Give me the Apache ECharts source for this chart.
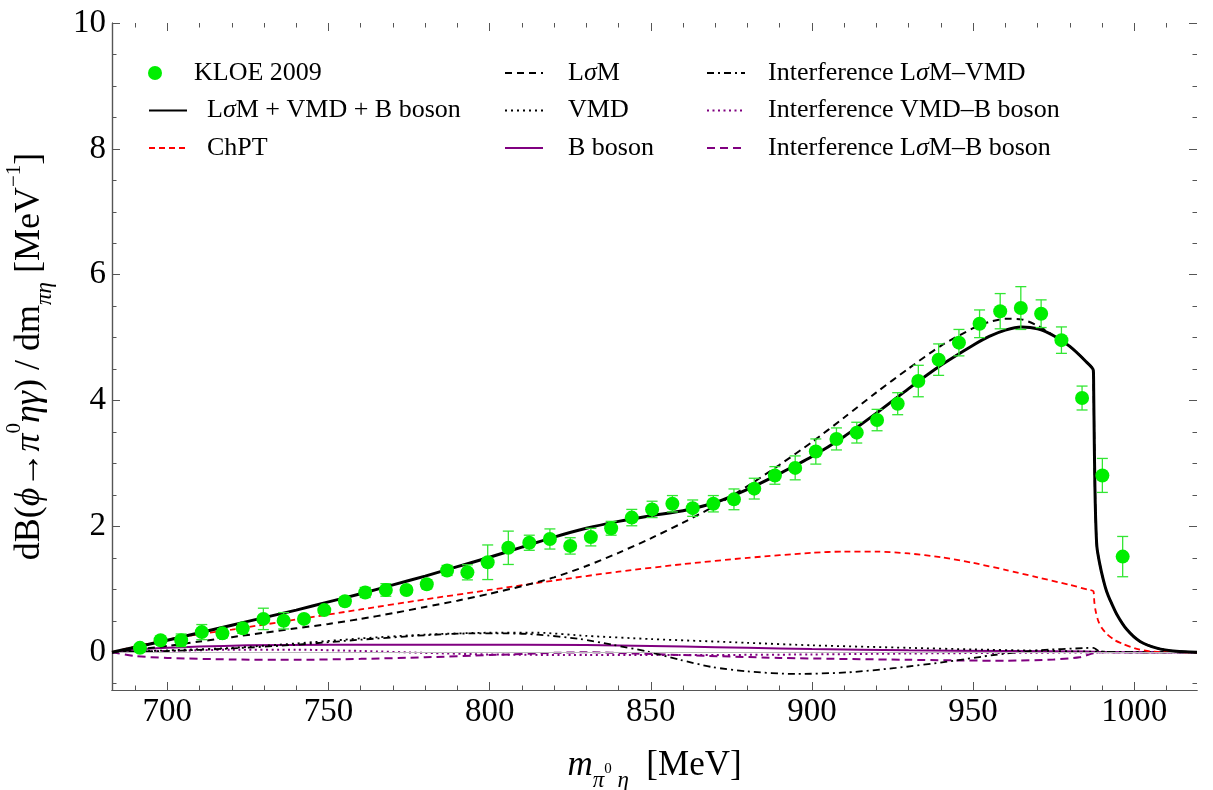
<!DOCTYPE html>
<html><head><meta charset="utf-8">
<script src="https://cdn.jsdelivr.net/npm/echarts@6/dist/echarts.min.js"></script>
<style>html,body{margin:0;padding:0;background:#fff}#c{width:1213px;height:790px}</style>
</head><body><div id="c"></div>
<script>
// ---- KLOE 2009 data ----
const kloeMass = [691.5, 697.9, 704.3, 710.7, 717.1, 723.4, 729.8, 736.1, 742.4, 748.7,
  755.1, 761.4, 767.8, 774.2, 780.5, 786.8, 793.1, 799.4, 805.8, 812.3,
  818.7, 825.0, 831.4, 837.7, 844.1, 850.4, 856.7, 863.0, 869.4, 875.8,
  882.1, 888.5, 894.8, 901.2, 907.6, 913.9, 920.2, 926.6, 933.0, 939.3,
  945.6, 952.0, 958.4, 964.8, 971.1, 977.4, 983.8, 990.1, 996.4];
const kloeValue = [0.07, 0.19, 0.19, 0.32, 0.30, 0.38, 0.53, 0.50, 0.53, 0.67,
  0.81, 0.95, 0.99, 0.99, 1.08, 1.30, 1.27, 1.43, 1.66, 1.74,
  1.80, 1.69, 1.83, 1.97, 2.14, 2.27, 2.36, 2.29, 2.36, 2.43,
  2.60, 2.81, 2.93, 3.19, 3.39, 3.49, 3.69, 3.95, 4.31, 4.65,
  4.92, 5.22, 5.42, 5.47, 5.38, 4.96, 4.04, 2.81, 1.52];
const kloeError = [0.05, 0.06, 0.10, 0.12, 0.07, 0.08, 0.17, 0.13, 0.05, 0.05,
  0.06, 0.08, 0.10, 0.06, 0.07, 0.08, 0.12, 0.275, 0.265, 0.12,
  0.16, 0.13, 0.14, 0.11, 0.13, 0.13, 0.13, 0.13, 0.13, 0.165,
  0.165, 0.14, 0.19, 0.20, 0.175, 0.165, 0.17, 0.175, 0.25, 0.25,
  0.21, 0.22, 0.28, 0.34, 0.22, 0.21, 0.19, 0.27, 0.32];

// ---- theory curves ----
const totalMass = [682.84, 690, 700, 710, 720, 730, 740, 750, 760, 770, 780, 790, 800, 810, 820, 830, 840, 850, 860, 870, 880, 890, 900, 910, 920, 930, 940, 950, 955, 960, 965, 970, 975, 980, 985, 987.3, 987.4, 987.6, 987.8, 988.0, 988.4, 989.3, 990.4, 991.4, 992.5, 994.6, 997.7, 1001.8, 1007, 1013, 1019.46];
const totalValue = [0, 0.08, 0.19, 0.31, 0.43, 0.55, 0.67, 0.8, 0.93, 1.07, 1.21, 1.36, 1.51, 1.67, 1.83, 1.97, 2.08, 2.17, 2.25, 2.38, 2.59, 2.84, 3.11, 3.43, 3.8, 4.19, 4.56, 4.88, 5.02, 5.12, 5.17, 5.14, 5.03, 4.86, 4.62, 4.48, 4.2, 3.3, 2.6, 2.15, 1.68, 1.4, 1.15, 0.97, 0.83, 0.6, 0.36, 0.17, 0.065, 0.015, 0];

const lsmMass = [682.84, 700, 710, 720, 730, 740, 750, 760, 770, 780, 790, 800, 810, 820, 830, 840, 850, 860, 870, 880, 890, 900, 910, 920, 930, 940, 950, 955, 960, 965, 970, 975, 980, 985, 987.3, 987.4, 987.6, 987.8, 988.0, 988.4, 989.3, 990.4, 991.4, 992.5, 994.6, 997.7, 1001.8, 1007, 1013, 1019.46];
const lsmValue = [0, 0.1, 0.17, 0.24, 0.31, 0.38, 0.45, 0.53, 0.62, 0.72, 0.82, 0.93, 1.05, 1.19, 1.37, 1.58, 1.81, 2.06, 2.33, 2.64, 2.98, 3.34, 3.73, 4.13, 4.51, 4.87, 5.15, 5.25, 5.3, 5.29, 5.19, 5.03, 4.86, 4.62, 4.48, 4.2, 3.3, 2.6, 2.15, 1.68, 1.4, 1.15, 0.97, 0.83, 0.6, 0.36, 0.17, 0.065, 0.015, 0];

const chptMass = [682.84, 690, 700, 710, 720, 740, 760, 780, 800, 820, 840, 860, 880, 900, 910, 920, 930, 940, 950, 960, 970, 980, 986, 987.3, 987.6, 988, 988.8, 990, 991.5, 994, 996.6, 1000, 1004, 1008, 1019.46];
const chptValue = [0, 0.09, 0.2, 0.29, 0.36, 0.52, 0.68, 0.84, 0.99, 1.14, 1.28, 1.4, 1.5, 1.58, 1.6, 1.6, 1.57, 1.51, 1.42, 1.31, 1.19, 1.07, 0.99, 0.97, 0.8, 0.66, 0.5, 0.38, 0.29, 0.19, 0.13, 0.065, 0.02, 0.003, 0];

const vmdMass = [682.84, 700, 720, 740, 760, 780, 800, 815, 830, 850, 880, 900, 930, 950, 970, 987, 1000, 1019.46];
const vmdValue = [0, 0.03, 0.07, 0.14, 0.22, 0.28, 0.31, 0.31, 0.26, 0.21, 0.15, 0.11, 0.07, 0.045, 0.025, 0.01, 0.003, 0];

const bMass = [682.84, 690, 700, 710, 725, 750, 790, 830, 860, 880, 900, 930, 960, 985, 990, 1000, 1019.46];
const bValue = [0, 0.04, 0.07, 0.09, 0.11, 0.12, 0.12, 0.115, 0.09, 0.07, 0.05, 0.03, 0.018, 0.01, 0.003, 0, 0];

const intLsmVmdMass = [682.84, 700, 720, 740, 760, 780, 795, 805, 815, 828, 838, 849, 859, 869, 880, 895, 911, 926, 942, 957, 970, 985, 987.3, 989, 992, 1000, 1019.46];
const intLsmVmdValue = [0, 0.02, 0.06, 0.12, 0.2, 0.27, 0.3, 0.3, 0.28, 0.21, 0.12, 0.01, -0.12, -0.235, -0.305, -0.345, -0.32, -0.25, -0.15, -0.04, 0.03, 0.067, 0.07, 0.02, 0.005, 0, 0];

const intVmdBMass = [682.84, 700, 720, 740, 760, 780, 800, 830, 860, 900, 930, 960, 987, 1000, 1019.46];
const intVmdBValue = [0, 0.02, 0.04, 0.04, 0.02, -0.01, -0.035, -0.045, -0.045, -0.035, -0.02, -0.01, -0.003, 0, 0];

const intLsmBMass = [682.84, 690, 700, 720, 740, 760, 780, 800, 820, 830, 845, 860, 890, 930, 960, 975, 983, 987.3, 990, 1019.46];
const intLsmBValue = [0, -0.06, -0.09, -0.115, -0.12, -0.105, -0.08, -0.045, -0.01, 0, -0.02, -0.045, -0.09, -0.12, -0.135, -0.115, -0.08, -0.015, 0, 0];

// ---- ticks ----
const xMajorTicks = [700, 750, 800, 850, 900, 950, 1000];
const xMinorTicks = [690, 710, 720, 730, 740, 760, 770, 780, 790, 810, 820, 830, 840, 860, 870, 880, 890, 910, 920, 930, 940, 960, 970, 980, 990, 1010];
const yMajorTicks = [0, 2, 4, 6, 8, 10];
const yMinorTicks = [-0.5, 0.5, 1, 1.5, 2.5, 3, 3.5, 4.5, 5, 5.5, 6.5, 7, 7.5, 8.5, 9, 9.5];

const XMIN = 682.84, XMAX = 1019.46, YMIN = -0.6, YMAX = 10;
const FONT = 'Liberation Serif';
const FRAME = '#555';

const pairs = (xs, ys) => xs.map((x, i) => [x, ys[i]]);

function curve(name, xs, ys, color, width, dash, z) {
  return {
    type: 'line', name, data: pairs(xs, ys), symbol: 'none', showSymbol: false,
    smooth: 0.25, z,
    lineStyle: { color, width, type: dash, cap: 'butt' }, itemStyle: { color },
    silent: true, animation: false
  };
}

function axisCommon(ticks, len, labels) {
  return {
    axisLine: { show: labels !== null, onZero: false, lineStyle: { color: FRAME, width: 1.2 } },
    axisTick: { show: true, inside: true, length: len, customValues: ticks, lineStyle: { color: FRAME, width: 1 } },
    axisLabel: labels ? { show: true, customValues: ticks, formatter: v => String(v), fontFamily: FONT, fontSize: 33, color: '#000', margin: 6 } : { show: false },
    splitLine: { show: false }, minorTick: { show: false }
  };
}
function xAx(pos, ticks, len, labels) {
  return Object.assign({ type: 'value', min: XMIN, max: XMAX, position: pos }, axisCommon(ticks, len, labels));
}
function yAx(pos, ticks, len, labels) {
  return Object.assign({ type: 'value', min: YMIN, max: YMAX, position: pos }, axisCommon(ticks, len, labels));
}

const xMain = xAx('bottom', xMajorTicks, 8, true);
xMain.name = '{i|m}{sub|π}{sup0|0}{sub| η}{n|  [MeV]}';
xMain.nameLocation = 'middle';
xMain.nameGap = 50;
xMain.nameTextStyle = {
  color: '#000', fontFamily: FONT, lineHeight: 52,
  rich: {
    i: { fontFamily: FONT, fontSize: 35, fontStyle: 'italic', lineHeight: 52, verticalAlign: 'middle', color: '#000' },
    n: { fontFamily: FONT, fontSize: 35, lineHeight: 52, verticalAlign: 'middle', color: '#000' },
    sub: { fontFamily: FONT, fontSize: 23, fontStyle: 'italic', lineHeight: 22, verticalAlign: 'bottom', color: '#000' },
    sup0: { fontFamily: FONT, fontSize: 15, lineHeight: 16, verticalAlign: 'middle', padding: [6, 0, 0, 0], color: '#000' }
  }
};

const yMain = yAx('left', yMajorTicks, 8, true);
yMain.name = '{n|dB(}{i|ϕ}{n|→}{i|π}{sup|0}{i|ηγ}{n|) / dm}{sub|πη}{n| [MeV}{sup|−1}{n|]}';
yMain.nameLocation = 'middle';
yMain.nameRotate = 90;
yMain.nameGap = 56;
yMain.nameTextStyle = {
  color: '#000', fontFamily: FONT, lineHeight: 52,
  rich: {
    n: { fontFamily: FONT, fontSize: 36, lineHeight: 52, verticalAlign: 'middle', color: '#000' },
    i: { fontFamily: FONT, fontSize: 36, fontStyle: 'italic', lineHeight: 52, verticalAlign: 'middle', color: '#000' },
    sup: { fontFamily: FONT, fontSize: 21, lineHeight: 30, verticalAlign: 'top', color: '#000' },
    sub: { fontFamily: FONT, fontSize: 23, fontStyle: 'italic', lineHeight: 22, verticalAlign: 'bottom', color: '#000' }
  }
};

// legend layout
const legendItems = [
  ['KLOE 2009', 148, 73, 15], ['LσM + VMD + B boson', 148, 110.5, 15], ['ChPT', 148, 148, 15],
  ['LσM', 504, 73, 20], ['VMD', 504, 110.5, 20], ['B boson', 504, 148, 20],
  ['Interference LσM–VMD', 706, 73, 18], ['Interference VMD–B boson', 706, 110.5, 18], ['Interference LσM–B boson', 706, 148, 18]
];
const legends = legendItems.map(([name, left, cy, pad]) => ({
  data: [name], left, top: cy - 15, orient: 'horizontal', padding: 0,
  itemWidth: 38, itemHeight: 14, selectedMode: false,
  itemStyle: name === 'KLOE 2009' ? {} : { opacity: 0 },
  formatter: n => n.replace(/σ/g, '{s|σ}'),
  textStyle: {
    fontFamily: FONT, fontSize: 26, color: '#000', lineHeight: 30, padding: [0, 0, 0, pad],
    rich: { s: { fontFamily: FONT, fontSize: 26, fontStyle: 'italic', color: '#000', lineHeight: 30 } }
  }
}));

const PURPLE = '#800080';

const option = {
  animation: false,
  backgroundColor: '#fff',
  grid: { left: 112, right: 16, top: 23, bottom: 100, containLabel: false, outerBoundsMode: 'none' },
  legend: legends,
  xAxis: [xMain, xAx('bottom', xMinorTicks, 4.5, false), xAx('top', xMajorTicks, 8, null), xAx('top', xMinorTicks, 4.5, null)],
  yAxis: [yMain, yAx('left', yMinorTicks, 4.5, false), yAx('right', yMajorTicks, 8, null), yAx('right', yMinorTicks, 4.5, null)],
  series: [
    {
      type: 'line', name: 'zero', data: [], silent: true, z: 1,
      markLine: { silent: true, symbol: 'none', label: { show: false }, animation: false,
        lineStyle: { color: '#bbb', width: 1, type: 'solid' }, data: [{ yAxis: 0 }] }
    },
    curve('Interference LσM–B boson', intLsmBMass, intLsmBValue, PURPLE, 2, [8, 5], 2),
    curve('Interference VMD–B boson', intVmdBMass, intVmdBValue, PURPLE, 2, [2, 3.5], 2),
    curve('B boson', bMass, bValue, PURPLE, 2, 'solid', 2),
    curve('Interference LσM–VMD', intLsmVmdMass, intLsmVmdValue, '#000', 1.8, [7, 4, 2, 4], 3),
    curve('VMD', vmdMass, vmdValue, '#000', 1.8, [2, 4], 3),
    curve('ChPT', chptMass, chptValue, '#ff0000', 1.8, [6, 4], 4),
    curve('LσM', lsmMass, lsmValue, '#000', 2, [7, 5], 5),
    curve('LσM + VMD + B boson', totalMass, totalValue, '#000', 3, 'solid', 6),
    {
      type: 'custom', name: 'KLOE errors', z: 7, silent: true,
      data: kloeMass.map((m, i) => [m, kloeValue[i], kloeError[i]]),
      encode: { x: 0, y: 1 },
      renderItem: function (params, api) {
        const x = api.value(0), y = api.value(1), e = api.value(2);
        const top = api.coord([x, y + e]), bot = api.coord([x, y - e]);
        const w = 5.5, st = { stroke: '#33e633', lineWidth: 1.3 };
        return { type: 'group', children: [
          { type: 'line', shape: { x1: top[0], y1: top[1], x2: bot[0], y2: bot[1] }, style: st },
          { type: 'line', shape: { x1: top[0] - w, y1: top[1], x2: top[0] + w, y2: top[1] }, style: st },
          { type: 'line', shape: { x1: bot[0] - w, y1: bot[1], x2: bot[0] + w, y2: bot[1] }, style: st }
        ] };
      }
    },
    {
      type: 'scatter', name: 'KLOE 2009', data: pairs(kloeMass, kloeValue),
      symbol: 'circle', symbolSize: 14, z: 8, silent: true,
      itemStyle: { color: '#00ee00', opacity: 1 }
    }
  ]
};

const chart = echarts.init(document.getElementById('c'), null, { renderer: 'canvas' });
chart.setOption(option);
</script></body></html>
